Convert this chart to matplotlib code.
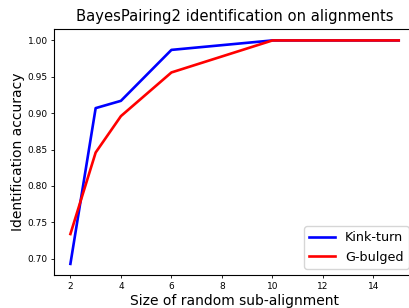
import matplotlib
matplotlib.use("Agg")
import matplotlib.pyplot as plt

# sub-alignment sizes and accuracies
sizes = [2, 3, 4, 6, 10, 15]
kink_turn = [0.693, 0.907, 0.917, 0.987, 1.0, 1.0]
g_bulged = [0.734, 0.846, 0.896, 0.956, 1.0, 1.0]

fig = plt.figure(figsize=(4.09, 3.08), dpi=100)
# axes run past the right edge of the figure, as in the cropped original
ax = fig.add_axes([0.132, 0.107, 0.883, 0.798])

ax.plot(sizes, kink_turn, color='blue', lw=1.9, label='Kink-turn')
ax.plot(sizes, g_bulged, color='red', lw=1.9, label='G-bulged')

ax.set_xticks([2, 4, 6, 8, 10, 12, 14])
ax.set_yticks([0.70, 0.75, 0.80, 0.85, 0.90, 0.95, 1.00])
ax.tick_params(axis='both', labelsize=6.5, length=2.5, width=0.6)
ax.tick_params(axis='x', pad=2.5)
ax.tick_params(axis='y', pad=2)

ax.set_title('BayesPairing2 identification on alignments', fontsize=10.6)
ax.set_xlabel('Size of random sub-alignment', fontsize=10, labelpad=2.5)
ax.set_ylabel('Identification accuracy', fontsize=10, labelpad=2)
ax.legend(loc='lower right', fontsize=9.2)

fig.savefig('out.png', dpi=100)
